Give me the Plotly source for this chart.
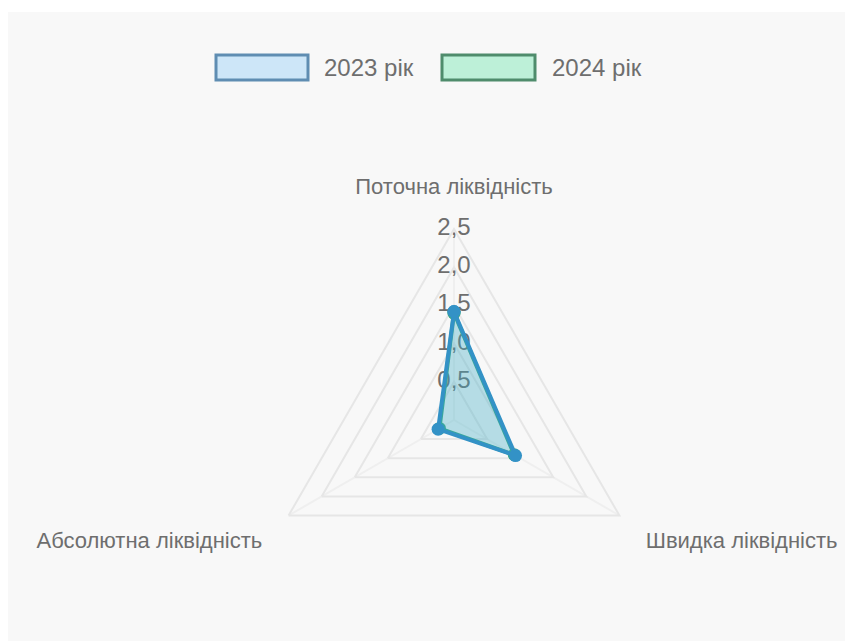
import plotly.graph_objects as go

# Liquidity ratios by year
categories = ["Поточна ліквідність", "Швидка ліквідність", "Абсолютна ліквідність"]
values_2023 = [1.42, 0.93, 0.24]
values_2024 = [1.40, 0.91, 0.22]
series_names = ["2023 рік", "2024 рік"]
tick_values = [0.5, 1.0, 1.5, 2.0, 2.5]
tick_labels = ["0,5", "1,0", "1,5", "2,0", "2,5"]

W, H = 845, 641
FONT = "Arial, 'Liberation Sans', Helvetica, sans-serif"
GREY = "#6e6e6e"
GRID = "#e6e6e6"

blue_line = "#3392c6"
blue_fill = "rgba(54,162,235,0.2)"
green_line = "#3aa987"
green_fill = "rgba(75,192,150,0.2)"


def closed(seq):
    return list(seq) + [seq[0]]


fig = go.Figure()

# radial scale labels, drawn along the first spoke beneath the data
fig.add_trace(go.Scatterpolar(
    r=tick_values,
    theta=[categories[0]] * len(tick_values),
    mode="text",
    text=tick_labels,
    textfont=dict(family=FONT, size=24, color=GREY),
    textposition="middle center",
    showlegend=False,
    hoverinfo="skip",
))

fig.add_trace(go.Scatterpolar(
    r=closed(values_2024),
    theta=closed(categories),
    name=series_names[1],
    mode="lines+markers",
    fill="toself",
    fillcolor=green_fill,
    line=dict(color=green_line, width=4),
    marker=dict(color=green_line, size=13),
    showlegend=False,
))

fig.add_trace(go.Scatterpolar(
    r=closed(values_2023),
    theta=closed(categories),
    name=series_names[0],
    mode="lines+markers",
    fill="toself",
    fillcolor=blue_fill,
    line=dict(color=blue_line, width=4),
    marker=dict(color=blue_line, size=13),
    showlegend=False,
))

# polar area: centre (454, 420) px, radius 191 px
cx, cy, R = 454, 420, 191
dom_x = [(cx - R) / W, (cx + R) / W]
dom_y = [(H - (cy + R)) / H, (H - (cy - R)) / H]

fig.update_layout(
    width=W,
    height=H,
    margin=dict(l=0, r=0, t=0, b=0),
    paper_bgcolor="#ffffff",
    plot_bgcolor="#f8f8f8",
    separators=", ",
    font=dict(family=FONT, color=GREY),
    polar=dict(
        domain=dict(x=dom_x, y=dom_y),
        bgcolor="rgba(0,0,0,0)",
        gridshape="linear",
        radialaxis=dict(
            range=[0, 2.5],
            tickvals=tick_values,
            showticklabels=False,
            ticks="",
            showline=False,
            gridcolor=GRID,
            gridwidth=2,
            angle=90,
        ),
        angularaxis=dict(
            rotation=90,
            direction="clockwise",
            showline=True,
            linecolor=GRID,
            linewidth=2,
            gridcolor="#efefef",
            gridwidth=2,
            ticks="outside",
            ticklen=25,
            tickcolor="rgba(0,0,0,0)",
            tickfont=dict(family=FONT, size=22, color=GREY),
        ),
    ),
)

# card background behind the chart
fig.add_shape(
    type="rect", xref="paper", yref="paper",
    x0=8 / W, x1=1.0, y0=0.0, y1=1 - 12 / H,
    fillcolor="#f8f8f8", line=dict(width=0), layer="below",
)

# legend boxes and labels
legend_items = [
    (series_names[0], 216, 308, "#cde6f8", "#5f8db2", 322),
    (series_names[1], 442, 535, "#bdf0d8", "#4f8c6c", 550),
]
ly0, ly1 = 55, 80
for name, bx0, bx1, fill, border, tx in legend_items:
    fig.add_shape(
        type="rect", xref="paper", yref="paper",
        x0=bx0 / W, x1=bx1 / W, y0=1 - ly1 / H, y1=1 - ly0 / H,
        fillcolor=fill, line=dict(color=border, width=3),
    )
    fig.add_annotation(
        xref="paper", yref="paper",
        x=tx / W, y=1 - (ly0 + ly1) / 2 / H,
        xanchor="left", yanchor="middle",
        text=name, showarrow=False,
        font=dict(family=FONT, size=24, color=GREY),
    )

fig.write_html("out.html")
